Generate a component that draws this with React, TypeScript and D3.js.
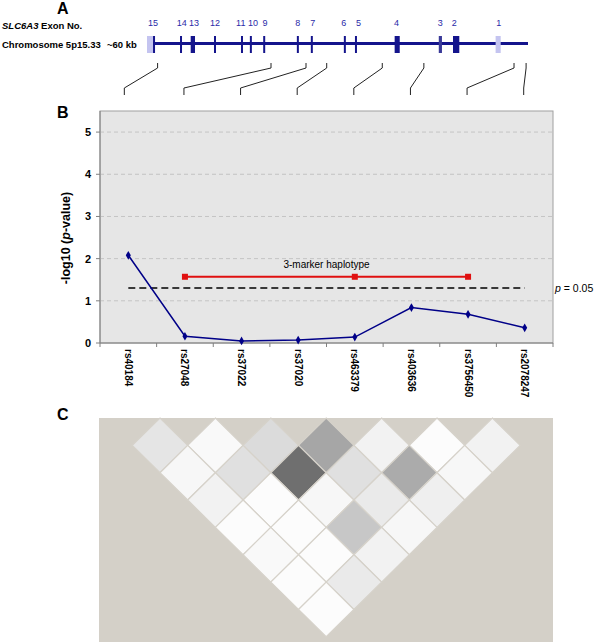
import React from "react";
import * as d3 from "d3";

const snps = ["rs40184", "rs27048", "rs37022", "rs37020", "rs463379", "rs403636", "rs3756450", "rs2078247"];
const logP = [2.08, 0.16, 0.05, 0.07, 0.14, 0.84, 0.68, 0.36];
const haploSnps = ["rs27048", "rs463379", "rs3756450"];
const haploValue = 1.57;
const threshold = 1.301;
const yTicks = [0, 1, 2, 3, 4, 5];

// exon number, start kb, end kb, kind, label position kb
const exonNums = ["15", "14", "13", "12", "11", "10", "9", "8", "7", "6", "5", "4", "3", "2", "1"];
const exonStart = [0.95, 5.2, 6.88, 10.55, 14.8, 16.2, 18.3, 23.6, 25.8, 31.0, 32.75, 39.0, 45.95, 48.19, 54.9];
const exonEnd = [1.25, 5.5, 7.56, 10.85, 15.1, 16.5, 18.6, 23.9, 26.1, 31.3, 33.05, 39.8, 46.45, 49.18, 55.7];
const exonKind = ["coding", "coding", "coding", "coding", "coding", "coding", "coding", "coding", "coding", "coding", "coding", "coding", "mid", "coding", "utr"];
const exonLabelKb = [0.94, 5.46, 7.4, 10.7, 14.76, 16.7, 18.6, 23.73, 26.1, 31.0, 33.3, 39.3, 46.2, 48.4, 55.4];
const utr15 = [0, 0.95];
const snpGenomicKb = [1.67, 19.53, 25.04, 28.3, 37.05, 43.6, 57.8, 59.7];

// LD values (0-100 darkness), rows by distance 1..7
const ldRows = [
  [9, 1, 13, 34, 4, 0, 4],
  [2, 11, 56, 11, 32, 2],
  [4, 0, 2, 7, 5],
  [0, 0, 21, 2],
  [1, 0, 4],
  [0, 7],
  [0],
];

const font = "'Liberation Sans', Arial, sans-serif";

export default function App() {
  const W = 600, H = 642;
  // Panel B scales
  const x = d3.scaleBand<string>().domain(snps).range([100, 553]);
  const y = d3.scaleLinear().domain([0, 5.5]).range([343, 111]);
  const cx = (s: string) => (x(s) as number) + x.bandwidth() / 2;

  // Gene scale
  const g = d3.scaleLinear().domain([0, 60]).range([147, 528]);

  const line = d3.line<number>().x((_, i) => cx(snps[i])).y((v) => y(v));
  const hLine = d3.line<string>().x((s) => cx(s)).y(() => y(haploValue));

  // Panel C geometry
  const hw = 27.7, hh = 27.35;
  const cTop = 418;
  const pos = (i: number) => 160 + (i - 0.5) * 2 * hw;
  const shade = d3.scaleLinear<string>().domain([0, 100]).range(["#fcfcfc", "#000000"]);

  const diamonds: { d: string; fill: string; key: string }[] = [];
  ldRows.forEach((row, r) => {
    const dist = r + 1;
    row.forEach((v, i) => {
      const j = i + dist;
      const mx = (pos(i) + pos(j)) / 2;
      const my = cTop + hh * dist;
      diamonds.push({
        key: `${i}-${j}`,
        fill: shade(v),
        d: `M${mx},${my - hh}L${mx + hw},${my}L${mx},${my + hh}L${mx - hw},${my}Z`,
      });
    });
  });

  const navy = "#14148c";

  return (
    <svg width={W} height={H} style={{ position: "absolute", left: 0, top: 0, fontFamily: font }}>
      <rect width={W} height={H} fill="#fff" />
      {/* Panel A */}
      <text x={57} y={13.5} fontSize={16} fontWeight="bold">A</text>
      <text x={2} y={29} fontSize={9.5} fontWeight="bold">
        <tspan fontStyle="italic">SLC6A3</tspan> Exon No.
      </text>
      <text x={2} y={48} fontSize={9.5} fontWeight="bold">Chromosome 5p15.33</text>
      <text x={107} y={48} fontSize={9.5} fontWeight="bold">~60 kb</text>
      <rect x={g(utr15[0])} y={36} width={g(utr15[1]) - g(utr15[0])} height={17} fill="#c4c4f0" />
      <line x1={g(utr15[1])} x2={g(60)} y1={43.5} y2={43.5} stroke={navy} strokeWidth={3} />
      {exonNums.map((n, i) => {
        const x0 = g(exonStart[i]);
        const x1 = g(exonEnd[i]);
        const fill = exonKind[i] === "utr" ? "#c4c4f0" : exonKind[i] === "mid" ? "#3a3a98" : navy;
        return (
          <g key={n}>
            <rect x={x0} y={36} width={Math.max(x1 - x0, 2)} height={17} fill={fill} />
            <text x={g(exonLabelKb[i])} y={26} fontSize={9} fill="#2a2aa8" textAnchor="middle">{n}</text>
          </g>
        );
      })}
      {snps.map((s, i) => {
        const gx = g(snpGenomicKb[i]);
        const bx = cx(s) - (i === 0 ? 4 : 1);
        return (
          <path key={s} d={`M${gx},63L${gx},68L${bx},88L${bx},95`} fill="none" stroke="#222" strokeWidth={1} />
        );
      })}

      {/* Panel B */}
      <text x={57} y={118} fontSize={16} fontWeight="bold">B</text>
      <rect x={100} y={111} width={453} height={232} fill="#e6e6e6" stroke="#a0a0a0" strokeWidth={1} />
      {yTicks.filter((t) => t > 0).map((t) => (
        <line key={t} x1={100} x2={553} y1={y(t)} y2={y(t)} stroke="#c4c4c4" strokeDasharray="4,3" />
      ))}
      <line x1={100} x2={100} y1={111} y2={343} stroke="#808080" />
      <line x1={100} x2={553} y1={343} y2={343} stroke="#808080" />
      {yTicks.map((t) => (
        <g key={t}>
          <line x1={96} x2={100} y1={y(t)} y2={y(t)} stroke="#808080" />
          <text x={91} y={y(t) + 4} fontSize={11} fontWeight="bold" textAnchor="end">{t}</text>
        </g>
      ))}
      {snps.map((s) => (
        <line key={"t" + s} x1={(x(s) as number)} x2={(x(s) as number)} y1={343} y2={347} stroke="#808080" />
      ))}
      <line x1={553} x2={553} y1={343} y2={347} stroke="#808080" />
      {snps.map((s) => (
        <text key={"l" + s} transform={`translate(${cx(s)},349) rotate(90)`} fontSize={10} fontWeight="bold" dominantBaseline="central">{s}</text>
      ))}
      <text transform={`translate(70,238) rotate(-90)`} fontSize={12.5} fontWeight="bold" textAnchor="middle">
        -log10 (<tspan fontStyle="italic">p</tspan>-value)
      </text>
      <line x1={cx(snps[0])} x2={cx(snps[snps.length - 1])} y1={y(threshold)} y2={y(threshold)} stroke="#000" strokeWidth={1.5} strokeDasharray="7,4" />
      <text x={555} y={292} fontSize={10.5}>
        <tspan fontStyle="italic">p</tspan> = 0.05
      </text>
      <path d={hLine(haploSnps) as string} fill="none" stroke="#e01010" strokeWidth={2} />
      {haploSnps.map((s) => (
        <rect key={"h" + s} x={cx(s) - 3} y={y(haploValue) - 3} width={6} height={6} fill="#e01010" />
      ))}
      <text x={(cx(haploSnps[0]) + cx(haploSnps[2])) / 2} y={268} fontSize={10} textAnchor="middle">3-marker haplotype</text>
      <path d={line(logP) as string} fill="none" stroke="#000088" strokeWidth={1.5} />
      {logP.map((v, i) => (
        <path key={"m" + i} d={d3.symbol(d3.symbolDiamond, 22)() as string} transform={`translate(${cx(snps[i])},${y(v)})`} fill="#000088" />
      ))}

      {/* Panel C */}
      <text x={57} y={420} fontSize={16} fontWeight="bold">C</text>
      <rect x={99} y={cTop} width={454} height={H - cTop} fill="#d4d0c8" />
      {diamonds.map((dm) => (
        <path key={dm.key} d={dm.d} fill={dm.fill} stroke="#d6d2ca" strokeWidth={1.2} />
      ))}
    </svg>
  );
}
